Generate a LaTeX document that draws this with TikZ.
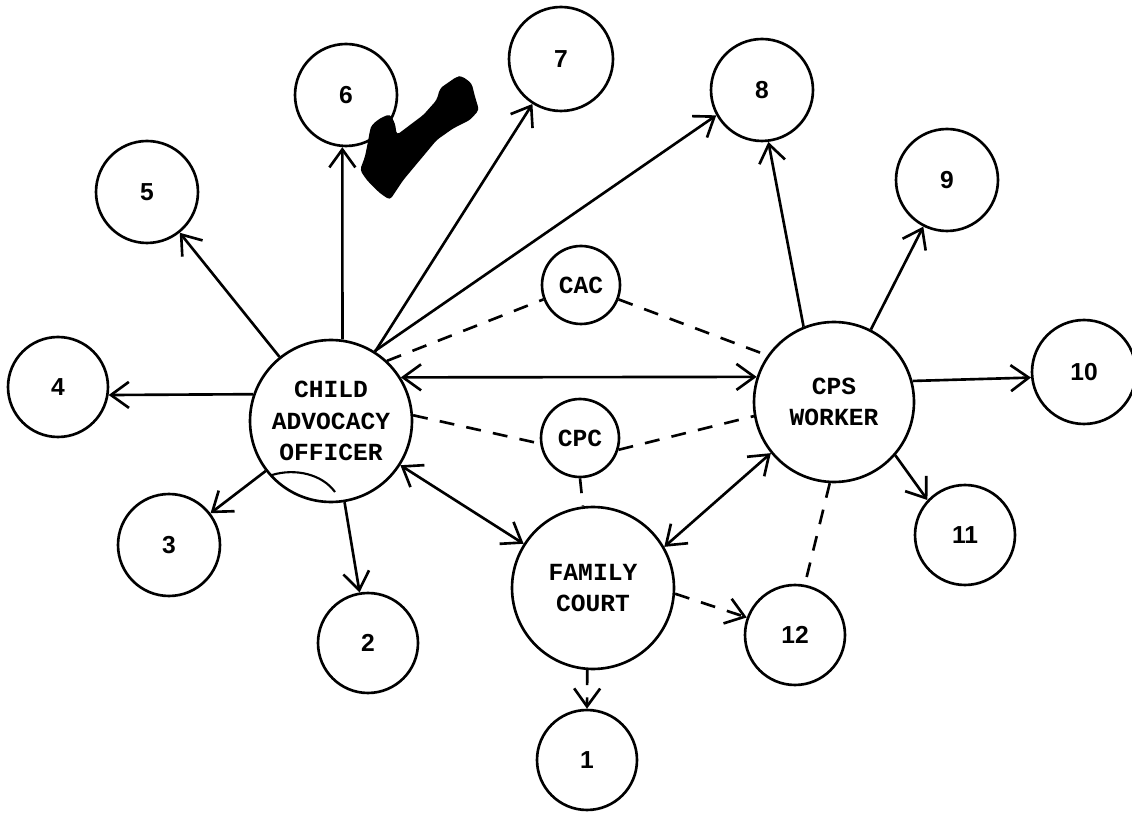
\documentclass[tikz,border=0pt]{standalone}
\usepackage{fontspec}
\setmainfont{Liberation Sans}
\newfontfamily\tw{Liberation Mono}
\usetikzlibrary{arrows.meta}
\begin{document}
\begin{tikzpicture}[x=0.02cm,y=-0.02cm,
  line width=1.5pt,
  bignode/.style={circle,draw,inner sep=0pt,minimum size=3.24cm,align=center,font=\tw\bfseries\fontsize{14}{18}\selectfont},
  smallnode/.style={circle,draw,inner sep=0pt,minimum size=1.56cm,font=\tw\bfseries\fontsize{14}{15}\selectfont},
  numnode/.style={circle,draw,inner sep=0pt,minimum size=2.04cm,font=\bfseries\fontsize{14}{16}\selectfont},
  link/.style={-{Straight Barb[length=3.6mm,width=5.2mm]}},
  both/.style={{Straight Barb[length=3.6mm,width=5.2mm]}-{Straight Barb[length=3.6mm,width=5.2mm]}},
  dline/.style={dash pattern=on 8.5pt off 7pt},
]
\useasboundingbox (0,0) rectangle (1132,813);

\node[bignode] (cao) at (331,421) {CHILD\\ADVOCACY\\OFFICER};
\node[bignode,minimum size=3.2cm] (cps) at (834,402) {CPS\\WORKER};
\node[bignode] (fc) at (593,588) {FAMILY\\COURT};
\node[smallnode] (cac) at (581,285) {CAC};
\node[smallnode] (cpc) at (580,438) {CPC};

\node[numnode,minimum size=2cm] (n1) at (587,760) {1};
\node[numnode,minimum size=2cm] (n2) at (368,643) {2};
\node[numnode] (n3) at (169,545) {3};
\node[numnode,minimum size=2cm] (n4) at (58,387) {4};
\node[numnode] (n5) at (147,192) {5};
\node[numnode] (n6) at (346,95) {6};
\node[numnode,minimum size=2.08cm] (n7) at (561,59) {7};
\node[numnode] (n8) at (762,90) {8};
\node[numnode] (n9) at (947,180) {9};
\node[numnode,minimum size=2.08cm] (n10) at (1084,372) {10};
\node[numnode,minimum size=2cm] (n11) at (965,535) {11};
\node[numnode,minimum size=2cm] (n12) at (795,635) {12};

% child advocacy officer links
\draw[link] (cao.161) -- (n4.-9);
\draw[link] (cao) -- (n5);
\draw[link] (cao.82) -- (n6.-94);
\draw[link] (cao) -- (n7);
\draw[link] (cao.58) -- (n8.-151);
\draw[both] (cao.32) -- (cps.162);
\draw[both] (cao) -- (fc);
\draw[link] (cao) -- (n3);
\draw[link] (cao) -- (n2);
\draw[dline] (cao.47) -- (cac.-159);
\draw[dline] (cao.4) -- (cpc.-172);

% CAC / CPC
\draw[dline] (cac.-21) -- (cps.145);
\draw[dline] (cpc.-17) -- (cps.-170);
\draw[dline] (cpc.south) -- (fc.97);

% CPS worker links
\draw[link] (cps.112) -- (n8.-83);
\draw[link] (cps) -- (n9);
\draw[link] (cps.15) -- (n10.-174);
\draw[link] (cps.-41) -- (n11.137);
\draw[dline] (cps.-93) -- (n12.79);
\draw[both] (cps.-141) -- (fc.30);

% family court links
\draw[dline,link] (fc.-4) -- (n12.160);
\draw[dline,link] (fc.-94) -- (n1.north);

% stray pen stroke inside the officer circle
\draw[line width=1.2pt] (272,475) .. controls (295,468) and (322,474) .. (335,492);

% black check-shaped blot
\fill[rounded corners=2pt] (371.7,125) -- (380,118.3) -- (390,114) -- (395,123.3) -- (396.7,135)
  -- (423.3,115) -- (436.7,100) -- (440,88.3) -- (456.7,76.7) -- (461.7,76) -- (471.7,83.3)
  -- (475,96.7) -- (479,110) -- (470,120) -- (453.3,128.3) -- (436.7,140) -- (420,160)
  -- (403.3,180) -- (390,200) -- (380,193.3) -- (366.7,180) -- (360,170) -- (365,156.7)
  -- (368.3,140) -- (370,130) -- cycle;
\end{tikzpicture}
\end{document}
